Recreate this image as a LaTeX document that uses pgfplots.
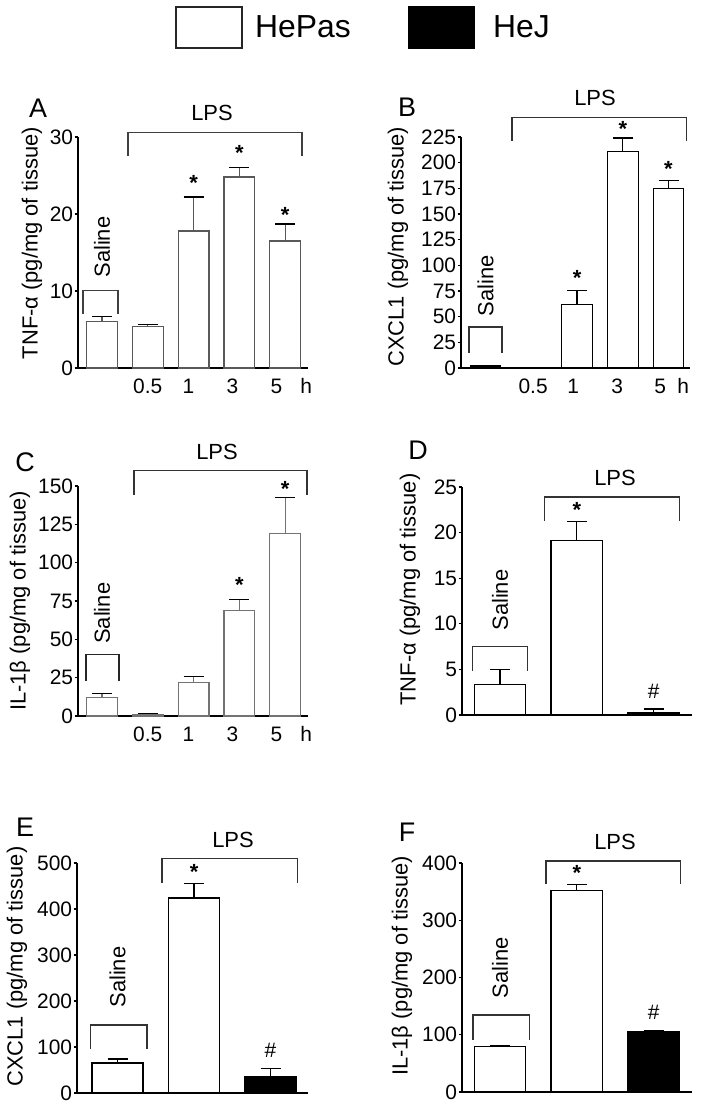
\documentclass[border=0pt]{standalone}
\usepackage{fontspec}
\setmainfont{Liberation Sans}
\usepackage{pgfplots}
\pgfplotsset{compat=1.18}
\usepackage{pgfplotstable}

\newcommand\fT{\fontsize{21}{24}\selectfont}
\newcommand\fL{\fontsize{22}{26}\selectfont}
\newcommand\fP{\fontsize{27}{30}\selectfont}
\newcommand\fG{\fontsize{32}{36}\selectfont}
\newcommand\fS{\fontsize{22}{24}\selectfont\bfseries}

\pgfplotstableread{
x y e
1 6.0 0.7
2 5.4 0.25
3 17.8 4.4
4 24.8 1.2
5 16.5 2.2
}\tA
\pgfplotstableread{
x y e
1 2.0 0.5
3 62 13.5
4 211 13
5 175 8
}\tB
\pgfplotstableread{
x y e
1 12 2.5
2 1.2 0.4
3 22 3.5
4 69 7
5 119 23.5
}\tC
\pgfplotstableread{
x y e
1 3.3 1.7
2 19.1 2.1
}\tDw
\pgfplotstableread{
x y e
3 0.3 0.35
}\tDb
\pgfplotstableread{
x y e
1 65 9
2 424 32
}\tEw
\pgfplotstableread{
x y e
3 35 19
}\tEb
\pgfplotstableread{
x y e
1 79 2
2 352 11
}\tFw
\pgfplotstableread{
x y e
3 105 3
}\tFb

\pgfplotsset{
  panel/.style={
    scale only axis, clip=false,
    axis x line=bottom, axis y line=left,
    axis line style={-, line width=1.2bp, black},
    enlargelimits=false,
    ymin=0,
    tick align=outside,
    major tick length=3.5bp,
    tick style={line width=1.1bp, black},
    x tick style={draw=none},
    yticklabel style={font=\fT, inner sep=1.2bp},
    xticklabel style={font=\fT, anchor=base, yshift=-22.5bp, inner sep=0pt},
    /pgf/number format/assume math mode=true,
    ybar, bar shift=0pt,
  },
  ylab/.style 2 args={every axis y label/.style={at={(axis description cs:#1,#2)}, anchor=center, rotate=90, font=\fL}},
  errb/.style={error bars/.cd, y dir=plus, y explicit,
    error bar style={line width=1.2bp},
    error mark options={rotate=90, line width=1.2bp, mark size=10bp}},
}

\begin{document}
\begin{tikzpicture}[x=1bp,y=1bp]

% ---------- Legend
\draw[line width=1.5bp, black!85] (176,1059) rectangle (242,1100);
\node[anchor=west, font=\fG, inner sep=0pt] at (255,1080) {HePas};
\fill[black] (408,1058) rectangle (475,1101);
\node[anchor=west, font=\fG, inner sep=0pt] at (493,1080) {HeJ};

% ---------- Panel letters and LPS
\node[font=\fP] at (38,999) {A};
\node[font=\fL] at (212,994) {LPS};
\node[font=\fP] at (407,1000) {B};
\node[font=\fL] at (595,1009) {LPS};
\node[font=\fP] at (25,645) {C};
\node[font=\fL] at (217,655) {LPS};
\node[font=\fP] at (418,657) {D};
\node[font=\fL] at (615,629) {LPS};
\node[font=\fP] at (25,280) {E};
\node[font=\fL] at (233,267) {LPS};
\node[font=\fP] at (407,275) {F};
\node[font=\fL] at (615,265) {LPS};

% ---------- A
\begin{axis}[panel, at={(78bp,739bp)}, anchor=south west,
  width=230bp, height=231bp,
  xmin=0.476, xmax=5.5, ymax=30,
  ytick={0,10,20,30},
  xtick={2.0,2.89,3.85,4.81,5.46}, xticklabels={0.5,1,3,5,h},
  bar width=30.7bp,
  ylabel={TNF-α (pg/mg of tissue)}, ylab={-0.2}{0.54}]
\addplot[draw=black!65, fill=white, line width=1.2bp, errb] table[x=x,y=y,y error=e]{\tA};
\draw[black!75, line width=1.2bp] (0.585,7.0) -- (0.585,10.1) -- (1.35,10.1) -- (1.35,7.0);
\node[rotate=90, font=\fL] at (1,15.7) {Saline};
\draw[black!75, line width=1.2bp] (1.568,27.5) -- (1.568,30.6) -- (5.367,30.6) -- (5.367,27.5);
\node[font=\fS] at (3,24.0) {*};
\node[font=\fS] at (4,27.9) {*};
\node[font=\fS] at (5,19.9) {*};
\end{axis}

% ---------- B
\begin{axis}[panel, at={(461bp,739bp)}, anchor=south west,
  width=229bp, height=231bp,
  xmin=0.464, xmax=5.47, ymax=225,
  ytick={0,25,...,225},
  xtick={2.04,2.915,3.877,4.818,5.32}, xticklabels={0.5,1,3,5,h},
  bar width=30.7bp,
  ylabel={CXCL1 (pg/mg of tissue)}, ylab={-0.275}{0.525}]
\addplot[draw=black, fill=white, line width=1.2bp, errb] table[x=x,y=y,y error=e]{\tB};
\draw[black!80, line width=1.2bp] (0.64,15) -- (0.64,40) -- (1.36,40) -- (1.36,15);
\node[rotate=90, font=\fL] at (1,80) {Saline};
\draw[black!80, line width=1.2bp] (1.58,221) -- (1.58,244) -- (5.39,244) -- (5.39,221);
\node[font=\fS] at (3,88) {*};
\node[font=\fS] at (4,232.6) {*};
\node[font=\fS] at (5,194) {*};
\end{axis}

% ---------- C
\begin{axis}[panel, at={(78bp,391bp)}, anchor=south west,
  width=230bp, height=230bp,
  xmin=0.476, xmax=5.5, ymax=150,
  ytick={0,25,...,150},
  xtick={2.0,2.89,3.85,4.81,5.46}, xticklabels={0.5,1,3,5,h},
  bar width=30.7bp,
  ylabel={IL-1β (pg/mg of tissue)}, ylab={-0.252}{0.5}]
\addplot[draw=black!55, fill=white, line width=1.2bp, errb] table[x=x,y=y,y error=e]{\tC};
\draw[black!85, line width=1.2bp] (0.65,23) -- (0.65,40) -- (1.37,40) -- (1.37,23);
\node[rotate=90, font=\fL] at (1,67) {Saline};
\draw[black!80, line width=1.2bp] (1.70,144) -- (1.70,160) -- (5.48,160) -- (5.48,144);
\node[font=\fS] at (4,85.5) {*};
\node[font=\fS] at (5,148) {*};
\end{axis}

% ---------- D
\begin{axis}[panel, at={(462bp,392bp)}, anchor=south west,
  width=230bp, height=228bp,
  xmin=0.506, xmax=3.5, ymax=25,
  ytick={0,5,...,25}, xtick=\empty,
  bar width=51.5bp,
  ylabel={TNF-α (pg/mg of tissue)}, ylab={-0.226}{0.55}]
\addplot[draw=black, fill=white, line width=1.2bp, errb] table[x=x,y=y,y error=e]{\tDw};
\addplot[draw=black, fill=black, line width=1.2bp, errb] table[x=x,y=y,y error=e]{\tDb};
\draw[black!80, line width=1.2bp] (0.64,4.8) -- (0.64,7.5) -- (1.36,7.5) -- (1.36,4.8);
\node[rotate=90, font=\fL] at (1,12.6) {Saline};
\draw[black!80, line width=1.2bp] (1.58,21.3) -- (1.58,23.9) -- (3.34,23.9) -- (3.34,21.3);
\node[font=\fS] at (2,22.5) {*};
\node[font=\fT] at (3,2.6) {\#};
\end{axis}

% ---------- E
\begin{axis}[panel, at={(77bp,14bp)}, anchor=south west,
  width=231bp, height=230bp,
  xmin=0.47, xmax=3.49, ymax=500,
  ytick={0,100,...,500}, xtick=\empty,
  bar width=51bp,
  ylabel={CXCL1 (pg/mg of tissue)}, ylab={-0.26}{0.55}]
\addplot[draw=black, fill=white, line width=1.2bp, errb] table[x=x,y=y,y error=e]{\tEw};
\addplot[draw=black, fill=black, line width=1.2bp, errb] table[x=x,y=y,y error=e]{\tEb};
\draw[black!80, line width=1.2bp] (0.65,96) -- (0.65,148) -- (1.385,148) -- (1.385,96);
\node[rotate=90, font=\fL] at (1,252) {Saline};
\draw[black!80, line width=1.2bp] (1.58,457) -- (1.58,509) -- (3.35,509) -- (3.35,457);
\node[font=\fS] at (2,480) {*};
\node[font=\fT] at (3,93) {\#};
\end{axis}

% ---------- F
\begin{axis}[panel, at={(462bp,15bp)}, anchor=south west,
  width=230bp, height=229bp,
  xmin=0.506, xmax=3.5, ymax=400,
  ytick={0,100,...,400}, xtick=\empty,
  bar width=51.5bp,
  ylabel={IL-1β (pg/mg of tissue)}, ylab={-0.261}{0.55}]
\addplot[draw=black, fill=white, line width=1.2bp, errb] table[x=x,y=y,y error=e]{\tFw};
\addplot[draw=black, fill=black, line width=1.2bp, errb] table[x=x,y=y,y error=e]{\tFb};
\draw[black!80, line width=1.2bp] (0.65,91) -- (0.65,134.5) -- (1.38,134.5) -- (1.38,91);
\node[rotate=90, font=\fL] at (1,217) {Saline};
\draw[black!80, line width=1.2bp] (1.6,363) -- (1.6,403.5) -- (3.35,403.5) -- (3.35,363);
\node[font=\fS] at (2,382.5) {*};
\node[font=\fT] at (3,140) {\#};
\end{axis}

\pgfresetboundingbox
\path (0,0) rectangle (703,1107);
\end{tikzpicture}
\end{document}
